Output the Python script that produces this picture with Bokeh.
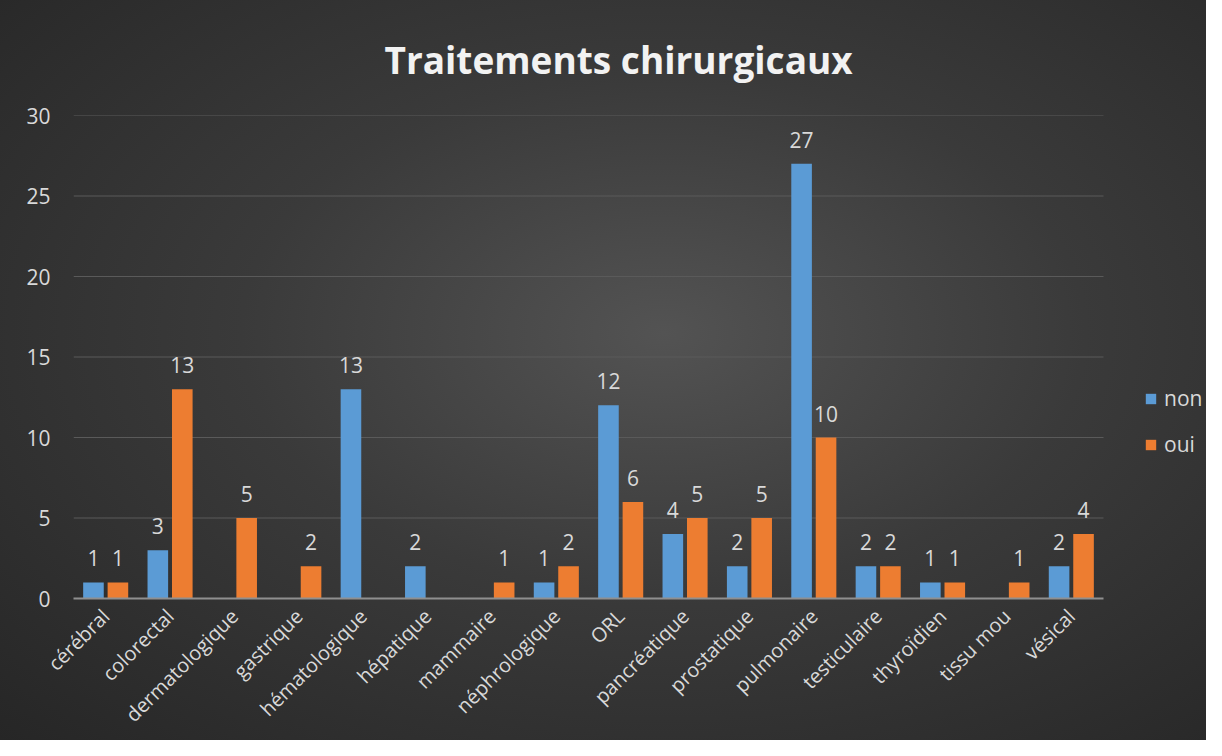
from bokeh.plotting import figure
from bokeh.models import ColumnDataSource, Legend, LegendItem, Title, Range1d, FixedTicker
from bokeh.core.properties import value
from bokeh.embed import file_html
from bokeh.resources import INLINE
import math

categories = ["cérébral", "colorectal", "dermatologique", "gastrique", "hématologique",
              "hépatique", "mammaire", "néphrologique", "ORL", "pancréatique",
              "prostatique", "pulmonaire", "testiculaire", "thyroïdien", "tissu mou", "vésical"]
non_values = [1, 3, None, None, 13, 2, None, 1, 12, 4, 2, 27, 2, 1, None, 2]
oui_values = [1, 13, 5, 2, None, None, 1, 2, 6, 5, 5, 10, 2, 1, 1, 4]
series_names = ["non", "oui"]
y_ticks = [0, 5, 10, 15, 20, 25, 30]
title_text = "Traitements chirurgicaux"

FONT = "Open Sans"
TXT = "#d9d9d9"
BLUE = "#5b9bd5"
ORANGE = "#ed7d31"

n = len(categories)
off = 0.19
w = 0.32

def src(vals, shift):
    idx = [i for i, v in enumerate(vals) if v is not None]
    v = [vals[i] for i in idx]
    return ColumnDataSource(dict(x=[i + 0.5 + shift for i in idx], val=v, lbl=[str(a) for a in v]))

s_non = src(non_values, -off)
s_oui = src(oui_values, off)

# frame spans 73 .. 1206 px; 16 categories occupy 1030 px
unit_px = 1030 / n
x_end = (1206 - 73) / unit_px

p = figure(width=1206, height=740, x_range=Range1d(0, x_end), y_range=Range1d(0, 30),
           output_backend="svg", toolbar_location=None,
           min_border_left=73, min_border_right=0, min_border_top=115, min_border_bottom=142)
p.styles = {"background": "radial-gradient(ellipse farthest-corner at 55% 45%, #535353 0%, #3a3a3a 45%, #262626 100%)"}
p.border_fill_color = None
p.background_fill_color = None
p.outline_line_color = None

p.title = Title(text=title_text, align="left", offset=311, standoff=61,
                text_color="#f2f2f2", text_font=FONT, text_font_style="bold",
                text_font_size="37px")

# horizontal gridlines limited to the category area
p.segment(x0=0, x1=n, y0=y_ticks[1:], y1=y_ticks[1:], line_color="#5a5a5a", line_width=1)

r1 = p.vbar(x="x", top="val", width=w, source=s_non, fill_color=BLUE, line_color=None)
r2 = p.vbar(x="x", top="val", width=w, source=s_oui, fill_color=ORANGE, line_color=None)

for s in (s_non, s_oui):
    p.text(x="x", y="val", text="lbl", source=s,
           text_align="center", text_baseline="bottom", y_offset=-16,
           text_color=TXT, text_font=value(FONT), text_font_size="21px")

# axes
p.xgrid.grid_line_color = None
p.ygrid.grid_line_color = None

p.yaxis.ticker = FixedTicker(ticks=y_ticks)
p.yaxis.axis_line_color = None
p.yaxis.major_tick_line_color = None
p.yaxis.minor_tick_line_color = None
p.yaxis.major_label_text_color = TXT
p.yaxis.major_label_text_font = FONT
p.yaxis.major_label_text_font_size = "21px"
p.yaxis.major_label_standoff = 17

xt = [i + 0.5 for i in range(n)]
p.xaxis.ticker = FixedTicker(ticks=xt)
p.xaxis.major_label_overrides = {t: c for t, c in zip(xt, categories)}
p.xaxis.bounds = (0, n)
p.xaxis.axis_line_color = "#8f8f8f"
p.xaxis.axis_line_width = 2
p.xaxis.major_tick_line_color = None
p.xaxis.minor_tick_line_color = None
p.xaxis.major_label_orientation = math.pi / 4
p.xaxis.major_label_text_color = TXT
p.xaxis.major_label_text_font = FONT
p.xaxis.major_label_text_font_size = "20px"
p.xaxis.major_label_standoff = 8

legend = Legend(items=[LegendItem(label=series_names[0], renderers=[r1]),
                       LegendItem(label=series_names[1], renderers=[r2])],
                location=(1071, 140), orientation="vertical",
                background_fill_alpha=0, border_line_color=None,
                label_text_color=TXT, label_text_font=FONT, label_text_font_size="21px",
                glyph_width=13, glyph_height=13, label_standoff=7, spacing=18,
                padding=0, margin=0)
p.add_layout(legend, "center")

open("out.html", "w").write(file_html(p, INLINE))
